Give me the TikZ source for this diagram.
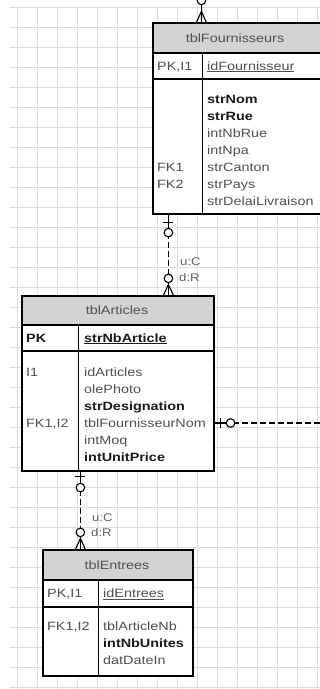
\documentclass[tikz,border=0pt]{standalone}
\usepackage{fontspec}
\setmainfont{Liberation Sans}[FakeStretch=1.2]
\definecolor{gridc}{HTML}{DCDCDC}
\definecolor{hdrc}{HTML}{D3D3D3}
\definecolor{txtg}{HTML}{505050}
\definecolor{txtd}{HTML}{1A1A1A}
\definecolor{lblc}{HTML}{606060}
\begin{document}
\begin{tikzpicture}[x=1pt,y=-1pt,
  gridline/.style={draw=gridc, line width=0.9pt},
  cell/.style={draw=black, fill=white, line width=1.2pt, rectangle, inner sep=0pt},
  hcell/.style={cell, fill=hdrc},
  boxline/.style={draw=black, line width=1.2pt},
  conn/.style={draw=black, line width=1.1pt},
  dconn/.style={conn, dash pattern=on 6pt off 3pt},
  txt/.style={anchor=base west, inner sep=0pt, font=\fontsize{12}{14}\selectfont, text=txtg},
  btxt/.style={txt, font=\fontsize{12}{14}\selectfont\bfseries, text=txtd},
  ttl/.style={anchor=base, inner sep=0pt, font=\fontsize{12}{14}\selectfont, text=txtg},
  lbl/.style={anchor=base west, inner sep=0pt, font=\fontsize{11}{13}\selectfont, text=lblc}
]
\clip (0,0) rectangle (320,689);
\useasboundingbox (0,0) rectangle (320,689);
\fill[white] (0,0) rectangle (320,689);
% grid
\foreach \x in {17,37,...,317} \draw[gridline] (\x,7) -- (\x,689);
\foreach \y in {7,27,...,687} \draw[gridline] (10,\y) -- (320,\y);

% ---------- tblFournisseurs ----------
\node[hcell, minimum width=171pt, minimum height=30pt] (fHead) at (238.5,38) {};
\node[cell, minimum width=171pt, minimum height=26pt] (fPK) at (238.5,66) {};
\node[cell, minimum width=171pt, minimum height=135pt] (fBody) at (238.5,146.5) {};
\draw[boxline] ([xshift=50pt]fPK.north west) -- ([xshift=50pt]fBody.south west);
\node[ttl] (fT) at (235,42) {tblFournisseurs};
\node[txt] (fK0) at (157,70) {PK,I1};
\node[txt] (fF0) at (207,70) {\underline{idFournisseur}};
\node[btxt] (fF1) at (207,103) {strNom};
\node[btxt] (fF2) at (207,120) {strRue};
\node[txt] (fF3) at (207,137) {intNbRue};
\node[txt] (fF4) at (207,154) {intNpa};
\node[txt] (fF5) at (207,171) {strCanton};
\node[txt] (fF6) at (207,188) {strPays};
\node[txt] (fF7) at (207,205) {strDelaiLivraison};
\node[txt] (fK5) at (157,171) {FK1};
\node[txt] (fK6) at (157,188) {FK2};

% ---------- tblArticles ----------
\node[hcell, minimum width=192pt, minimum height=29pt] (aHead) at (118,310.5) {};
\node[cell, minimum width=192pt, minimum height=26pt] (aPK) at (118,338) {};
\node[cell, minimum width=192pt, minimum height=120pt] (aBody) at (118,411) {};
\draw[boxline] ([xshift=57pt]aPK.north west) -- ([xshift=57pt]aBody.south west);
\node[ttl] (aT) at (117,314.5) {tblArticles};
\node[btxt] (aK0) at (26,342) {PK};
\node[btxt] (aF0) at (84,342) {\underline{strNbArticle}};
\node[txt] (aK1) at (26,376) {I1};
\node[txt] (aF1) at (84,376) {idArticles};
\node[txt] (aF2) at (84,393) {olePhoto};
\node[btxt] (aF3) at (84,410) {strDesignation};
\node[txt] (aK4) at (26,427) {FK1,I2};
\node[txt] (aF4) at (84,427) {tblFournisseurNom};
\node[txt] (aF5) at (84,444) {intMoq};
\node[btxt] (aF6) at (84,461) {intUnitPrice};

% ---------- tblEntrees ----------
\node[hcell, minimum width=150pt, minimum height=30pt] (eHead) at (118,565) {};
\node[cell, minimum width=150pt, minimum height=27pt] (ePK) at (118,593.5) {};
\node[cell, minimum width=150pt, minimum height=69pt] (eBody) at (118,641.5) {};
\draw[boxline] ([xshift=56pt]ePK.north west) -- ([xshift=56pt]eBody.south west);
\node[ttl] (eT) at (117,569) {tblEntrees};
\node[txt] (eK0) at (47,597.5) {PK,I1};
\node[txt] (eF0) at (103,597.5) {\underline{idEntrees}};
\node[txt] (eK1) at (47,630) {FK1,I2};
\node[txt] (eF1) at (103,630) {tblArticleNb};
\node[btxt] (eF2) at (103,647) {intNbUnites};
\node[txt] (eF3) at (103,664) {datDateIn};

% ---------- connector 1 (top, off picture) ----------
\coordinate (c1a) at ([xshift=49pt]fHead.north west);
\coordinate (c1b) at (202,-12);
\draw[conn] (c1a) -- (c1b);
\draw[conn] (c1a) ++(-5,0) -- ++(5,-11) -- ++(5,11);
\draw[conn, fill=white] (c1a) ++(0,-22) circle[radius=4.3pt];

% ---------- connector 2 ----------
\coordinate (c2a) at ([xshift=16pt]fBody.south west);
\coordinate (c2b) at ([xshift=147pt]aHead.north west);
\draw[dconn] (c2a) -- (c2b);
\draw[conn] (c2a) -- ++(0,14);
\draw[conn] (c2a) ++(-5,8) -- ++(10,0);
\draw[conn, fill=white] (c2a) ++(0,18) circle[radius=4.3pt];
\draw[conn] (c2b) -- ++(0,-13);
\draw[conn] (c2b) ++(-5,0) -- ++(5,-11) -- ++(5,11);
\draw[conn, fill=white] (c2b) ++(0,-17) circle[radius=4.3pt];
\node[lbl] (c2u) at (180,265.5) {u:C};
\node[lbl] (c2d) at (179,281.5) {d:R};

% ---------- connector 3 ----------
\coordinate (c3a) at ([xshift=59pt]aBody.south west);
\coordinate (c3b) at ([xshift=38pt]eHead.north west);
\draw[dconn] (c3a) -- (c3b);
\draw[conn] (c3a) -- ++(0,12);
\draw[conn] (c3a) ++(-5,5) -- ++(10,0);
\draw[conn, fill=white] (c3a) ++(0,16) circle[radius=4.3pt];
\draw[conn] (c3b) -- ++(0,-13);
\draw[conn] (c3b) ++(-5,0) -- ++(5,-11) -- ++(5,11);
\draw[conn, fill=white] (c3b) ++(0,-17) circle[radius=4.3pt];
\node[lbl] (c3u) at (92,521.5) {u:C};
\node[lbl] (c3d) at (91,536.5) {d:R};

% ---------- connector 4 (right, off picture) ----------
\coordinate (c4a) at ([yshift=-12pt]aBody.east);
\coordinate (c4b) at (332,423);
\draw[dconn] (c4a) -- (c4b);
\draw[conn] (c4a) -- ++(12,0);
\draw[conn] (c4a) ++(6,-5) -- ++(0,10);
\draw[conn, fill=white] (c4a) ++(16,0) circle[radius=4.3pt];
\end{tikzpicture}
\end{document}
